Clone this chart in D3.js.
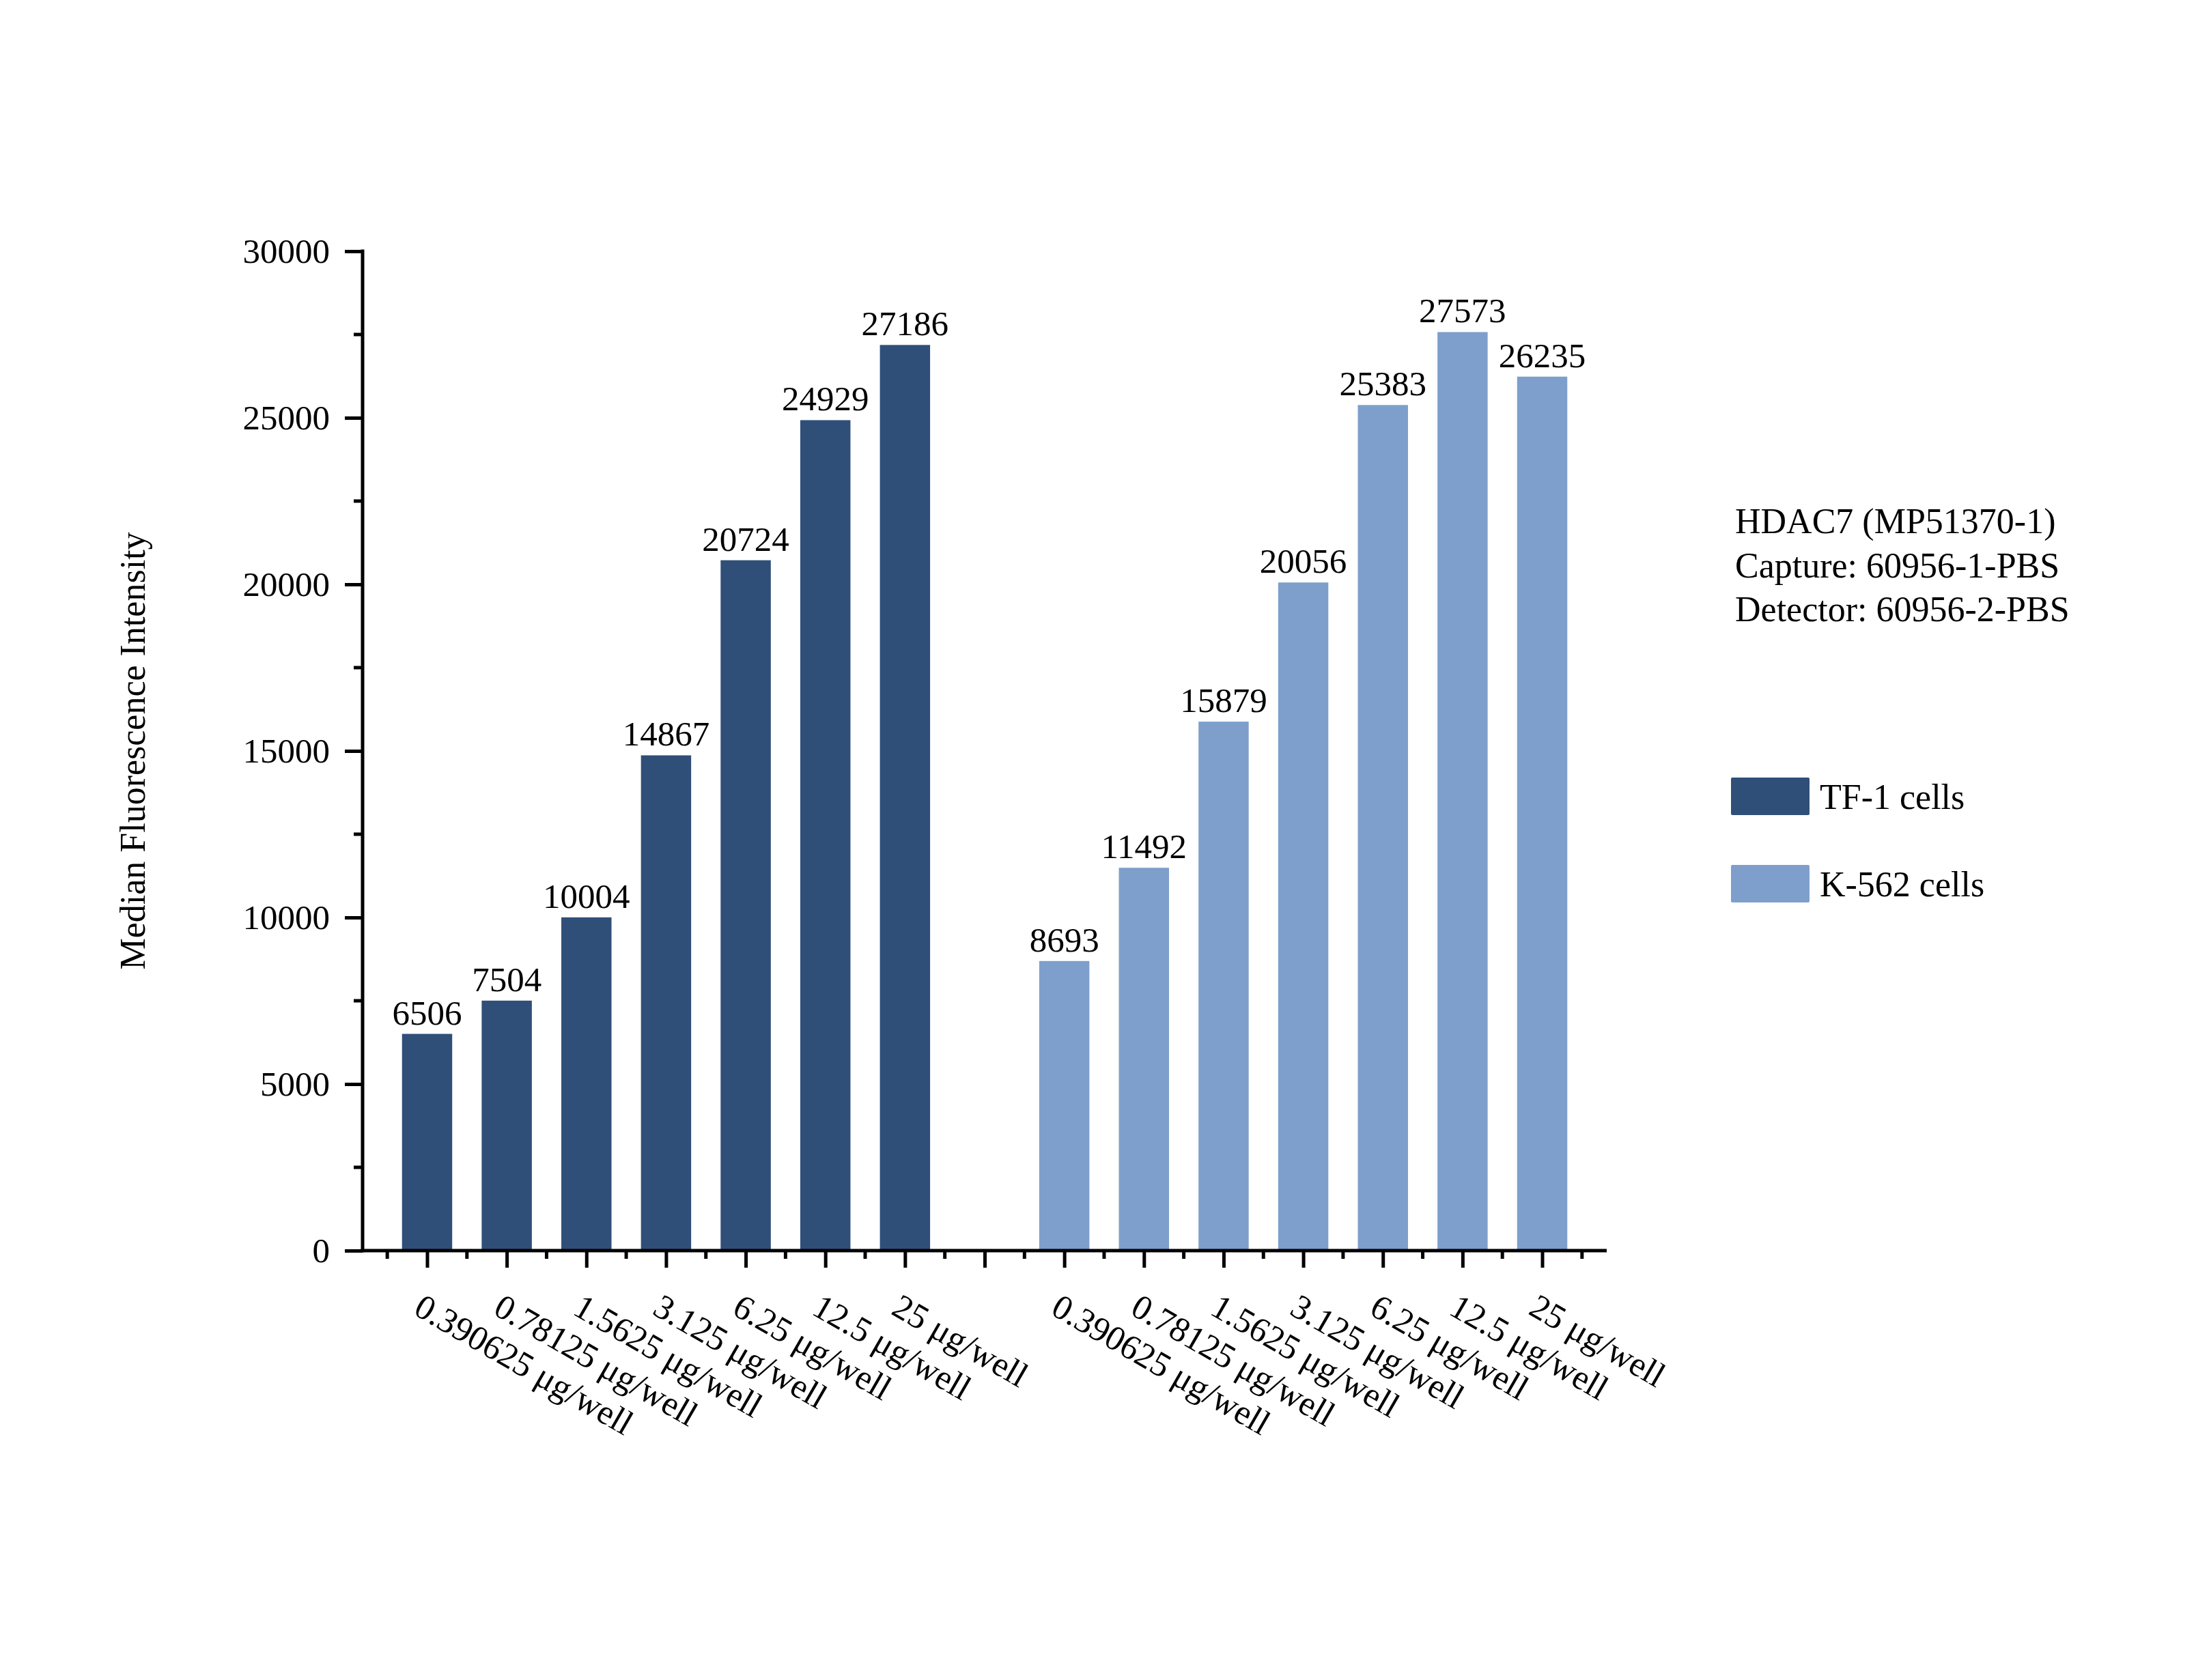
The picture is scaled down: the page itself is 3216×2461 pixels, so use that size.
<!DOCTYPE html>
<html>
<head>
<meta charset="utf-8">
<script src="https://cdn.jsdelivr.net/npm/d3@7"></script>
<style>
  html, body { margin: 0; padding: 0; background: #ffffff; }
  text { font-family: "Liberation Serif", "Times New Roman", serif; fill: #000; }
</style>
</head>
<body>
<script>
// ---- data ----
const categories = ["0.390625 μg/well", "0.78125 μg/well", "1.5625 μg/well", "3.125 μg/well", "6.25 μg/well", "12.5 μg/well", "25 μg/well"];
const seriesNames = ["TF-1 cells", "K-562 cells"];
const tf1Values = [6506, 7504, 10004, 14867, 20724, 24929, 27186];
const k562Values = [8693, 11492, 15879, 20056, 25383, 27573, 26235];
const yTicks = [0, 5000, 10000, 15000, 20000, 25000, 30000];
const annotationLines = ["HDAC7 (MP51370-1)", "Capture: 60956-1-PBS", "Detector: 60956-2-PBS"];
const yTitle = "Median Fluorescence Intensity";
const colors = ["#2F4F79", "#7E9FCC"];

(function () {
const W = 3216, H = 2461;
const svg = d3.select("body").append("svg")
  .attr("width", W).attr("height", H)
  .attr("viewBox", `0 0 ${W} ${H}`);
svg.append("rect").attr("width", W).attr("height", H).attr("fill", "#fff");

const pLeft = 531, pRight = 2353, pTop = 368, pBottom = 1832;
const x = d3.scaleLinear().domain([0.19, 15.81]).range([pLeft, pRight]);
const y = d3.scaleLinear().domain([0, 30000]).range([pBottom, pTop]);
const barW = 0.63;

// build bar table
const bars = [];
tf1Values.forEach((v, i) => bars.push({pos: i + 1, value: v, s: 0, cat: categories[i]}));
k562Values.forEach((v, i) => bars.push({pos: i + 9, value: v, s: 1, cat: categories[i]}));

// bars
svg.append("g").selectAll("rect").data(bars).join("rect")
  .attr("x", d => x(d.pos - barW / 2))
  .attr("width", d => x(d.pos + barW / 2) - x(d.pos - barW / 2))
  .attr("y", d => y(d.value))
  .attr("height", d => y(0) - y(d.value))
  .attr("fill", d => colors[d.s]);

// value labels
svg.append("g").selectAll("text").data(bars).join("text")
  .attr("x", d => x(d.pos))
  .attr("y", d => y(d.value) - 14)
  .attr("text-anchor", "middle")
  .attr("font-size", 51)
  .text(d => d.value);

// y axis
const yAxis = d3.axisLeft(y).tickValues(yTicks).tickSize(26).tickPadding(22)
  .tickFormat(d3.format("d"));
const gy = svg.append("g").attr("transform", `translate(${pLeft},0)`).call(yAxis);
gy.select(".domain").remove();
gy.selectAll(".tick line").attr("stroke", "#000").attr("stroke-width", 5);
gy.selectAll(".tick text").attr("font-size", 51).attr("font-family", "Liberation Serif").attr("fill", "#000");
// minor y ticks
const yMinor = d3.range(2500, 30000, 5000);
svg.append("g").selectAll("line").data(yMinor).join("line")
  .attr("x1", pLeft - 13).attr("x2", pLeft)
  .attr("y1", d => y(d)).attr("y2", d => y(d))
  .attr("stroke", "#000").attr("stroke-width", 5);

// x axis
const xMajor = d3.range(1, 16);
const xMinor = d3.range(0.5, 15.6, 1);
const xAxis = d3.axisBottom(x).tickValues(xMajor).tickSize(25).tickFormat("");
const gx = svg.append("g").attr("transform", `translate(0,${pBottom})`).call(xAxis);
gx.select(".domain").remove();
gx.selectAll(".tick line").attr("stroke", "#000").attr("stroke-width", 5);
svg.append("g").selectAll("line").data(xMinor).join("line")
  .attr("x1", d => x(d)).attr("x2", d => x(d))
  .attr("y1", pBottom).attr("y2", pBottom + 12)
  .attr("stroke", "#000").attr("stroke-width", 5);

// axis lines
svg.append("line").attr("x1", pLeft).attr("x2", pLeft).attr("y1", pTop - 2.5).attr("y2", pBottom + 2.5)
  .attr("stroke", "#000").attr("stroke-width", 5);
svg.append("line").attr("x1", pLeft - 2.5).attr("x2", pRight).attr("y1", pBottom).attr("y2", pBottom)
  .attr("stroke", "#000").attr("stroke-width", 5);

// category labels (rotated)
svg.append("g").selectAll("text").data(bars).join("text")
  .attr("transform", d => `translate(${x(d.pos) - 22},${pBottom + 92}) rotate(30)`)
  .attr("text-anchor", "start")
  .attr("font-size", 51)
  .text(d => d.cat);

// y title
svg.append("text")
  .attr("transform", `translate(212,1100) rotate(-90)`)
  .attr("text-anchor", "middle")
  .attr("font-size", 52)
  .text(yTitle);

// annotation
svg.append("g").selectAll("text").data(annotationLines).join("text")
  .attr("x", 2541)
  .attr("y", (d, i) => 781 + i * 64.5)
  .attr("font-size", 52)
  .text(d => d);

// legend
const legY = [1139, 1267];
const lg = svg.append("g").selectAll("g").data(seriesNames).join("g");
lg.append("rect")
  .attr("x", 2535).attr("y", (d, i) => legY[i])
  .attr("width", 115).attr("height", 55).attr("rx", 2)
  .attr("fill", (d, i) => colors[i]);
lg.append("text")
  .attr("x", 2665).attr("y", (d, i) => legY[i] + 46)
  .attr("font-size", 52)
  .text(d => d);
})();
</script>
</body>
</html>
